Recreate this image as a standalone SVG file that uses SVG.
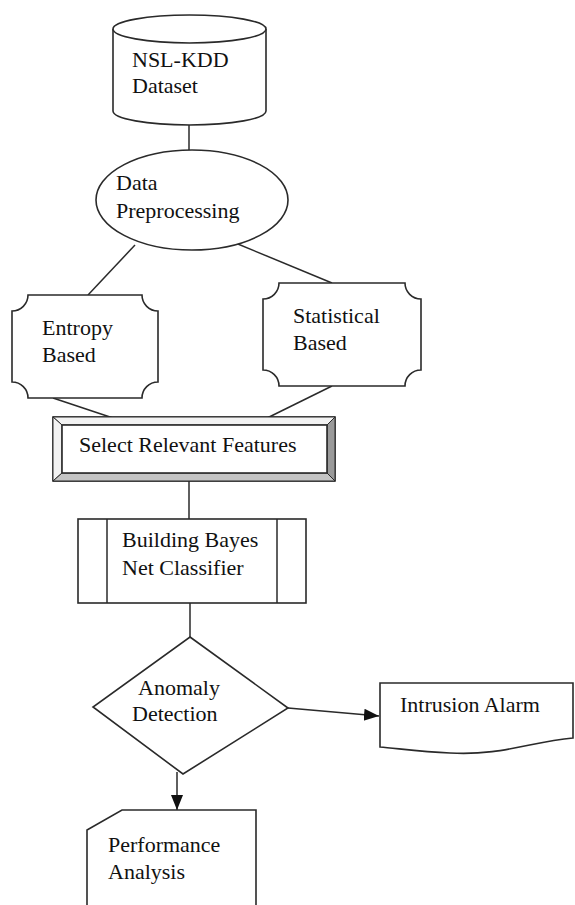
<svg xmlns="http://www.w3.org/2000/svg" width="575" height="905" viewBox="0 0 575 905">
<style>
.s{fill:#fff;stroke:#2a2a2a;stroke-width:1.6}
.c{fill:none;stroke:#2a2a2a;stroke-width:1.5}
text{font-family:"Liberation Serif","Times New Roman",serif;font-size:22px;fill:#111}
</style>
<defs>
<marker id="ah2" viewBox="0 0 10 10" refX="10" refY="5" markerWidth="15" markerHeight="15" markerUnits="userSpaceOnUse" orient="auto">
<path d="M0,1 L10,5 L0,9 Z" fill="#111"/>
</marker>
</defs>
<rect width="575" height="905" fill="#fff"/>
<g id="connectors">
<line class="c" x1="189" y1="125" x2="189" y2="150"/>
<line class="c" x1="135" y1="245" x2="88" y2="295"/>
<line class="c" x1="233" y1="242" x2="332" y2="283"/>
<line class="c" x1="53" y1="398" x2="128" y2="423"/>
<line class="c" x1="332" y1="386" x2="257" y2="423"/>
<line class="c" x1="189" y1="481" x2="189" y2="519"/>
<line class="c" x1="190" y1="603" x2="190" y2="637"/>
<line class="c" x1="288" y1="708" x2="379" y2="716" marker-end="url(#ah2)"/>
<line class="c" x1="177" y1="772" x2="177" y2="810" marker-end="url(#ah2)"/>
</g>
<g id="dataset">
<path class="s" d="M113,29 L113,111 A76.5,14 0 0 0 266,111 L266,29"/>
<ellipse class="s" cx="189.5" cy="29" rx="76.5" ry="14"/>
<text x="132" y="67">NSL-KDD</text>
<text x="132" y="93">Dataset</text>
</g>
<g id="preprocessing">
<ellipse class="s" cx="192" cy="200" rx="96" ry="50"/>
<text x="116" y="190">Data</text>
<text x="116" y="218">Preprocessing</text>
</g>
<g id="entropy">
<path class="s" d="M28,295 L142,295 A16,16 0 0 0 158,311 L158,382 A16,16 0 0 0 142,398 L28,398 A16,16 0 0 0 12,382 L12,311 A16,16 0 0 0 28,295 Z"/>
<text x="42" y="335">Entropy</text>
<text x="42" y="362">Based</text>
</g>
<g id="statistical">
<path class="s" d="M279,283 L405,283 A16,16 0 0 0 421,299 L421,370 A16,16 0 0 0 405,386 L279,386 A16,16 0 0 0 263,370 L263,299 A16,16 0 0 0 279,283 Z"/>
<text x="293" y="323">Statistical</text>
<text x="293" y="350">Based</text>
</g>
<g id="select">
<rect class="s" x="53" y="417" width="282" height="64"/>
<polygon points="53,417 335,417 327,425 62,425" fill="#f2f2f2" stroke="#2a2a2a" stroke-width="1"/>
<polygon points="53,417 62,425 62,473 53,481" fill="#f2f2f2" stroke="#2a2a2a" stroke-width="1"/>
<polygon points="335,417 335,481 327,473 327,425" fill="#9a9a9a" stroke="#2a2a2a" stroke-width="1"/>
<polygon points="53,481 62,473 327,473 335,481" fill="#c4c4c4" stroke="#2a2a2a" stroke-width="1"/>
<rect class="s" x="62" y="425" width="265" height="48"/>
<text x="79" y="452">Select Relevant Features</text>
</g>
<g id="bayes">
<rect class="s" x="78" y="519" width="228" height="84"/>
<line class="c" x1="107" y1="519" x2="107" y2="603"/>
<line class="c" x1="277" y1="519" x2="277" y2="603"/>
<text x="122" y="547">Building Bayes</text>
<text x="122" y="575">Net Classifier</text>
</g>
<g id="anomaly">
<polygon class="s" points="190,637 288,708 183,774 93,707"/>
<text x="138" y="695">Anomaly</text>
<text x="132" y="721">Detection</text>
</g>
<g id="alarm">
<path class="s" d="M380,683 L573,683 L573,738 C530,742 500,756 450,753 C420,752 395,748 380,747 Z"/>
<text x="400" y="712">Intrusion Alarm</text>
</g>
<g id="performance">
<path class="s" d="M87,910 L87,830 L122,810 L256,810 L256,910"/>
<text x="108" y="852">Performance</text>
<text x="108" y="879">Analysis</text>
</g>
</svg>
